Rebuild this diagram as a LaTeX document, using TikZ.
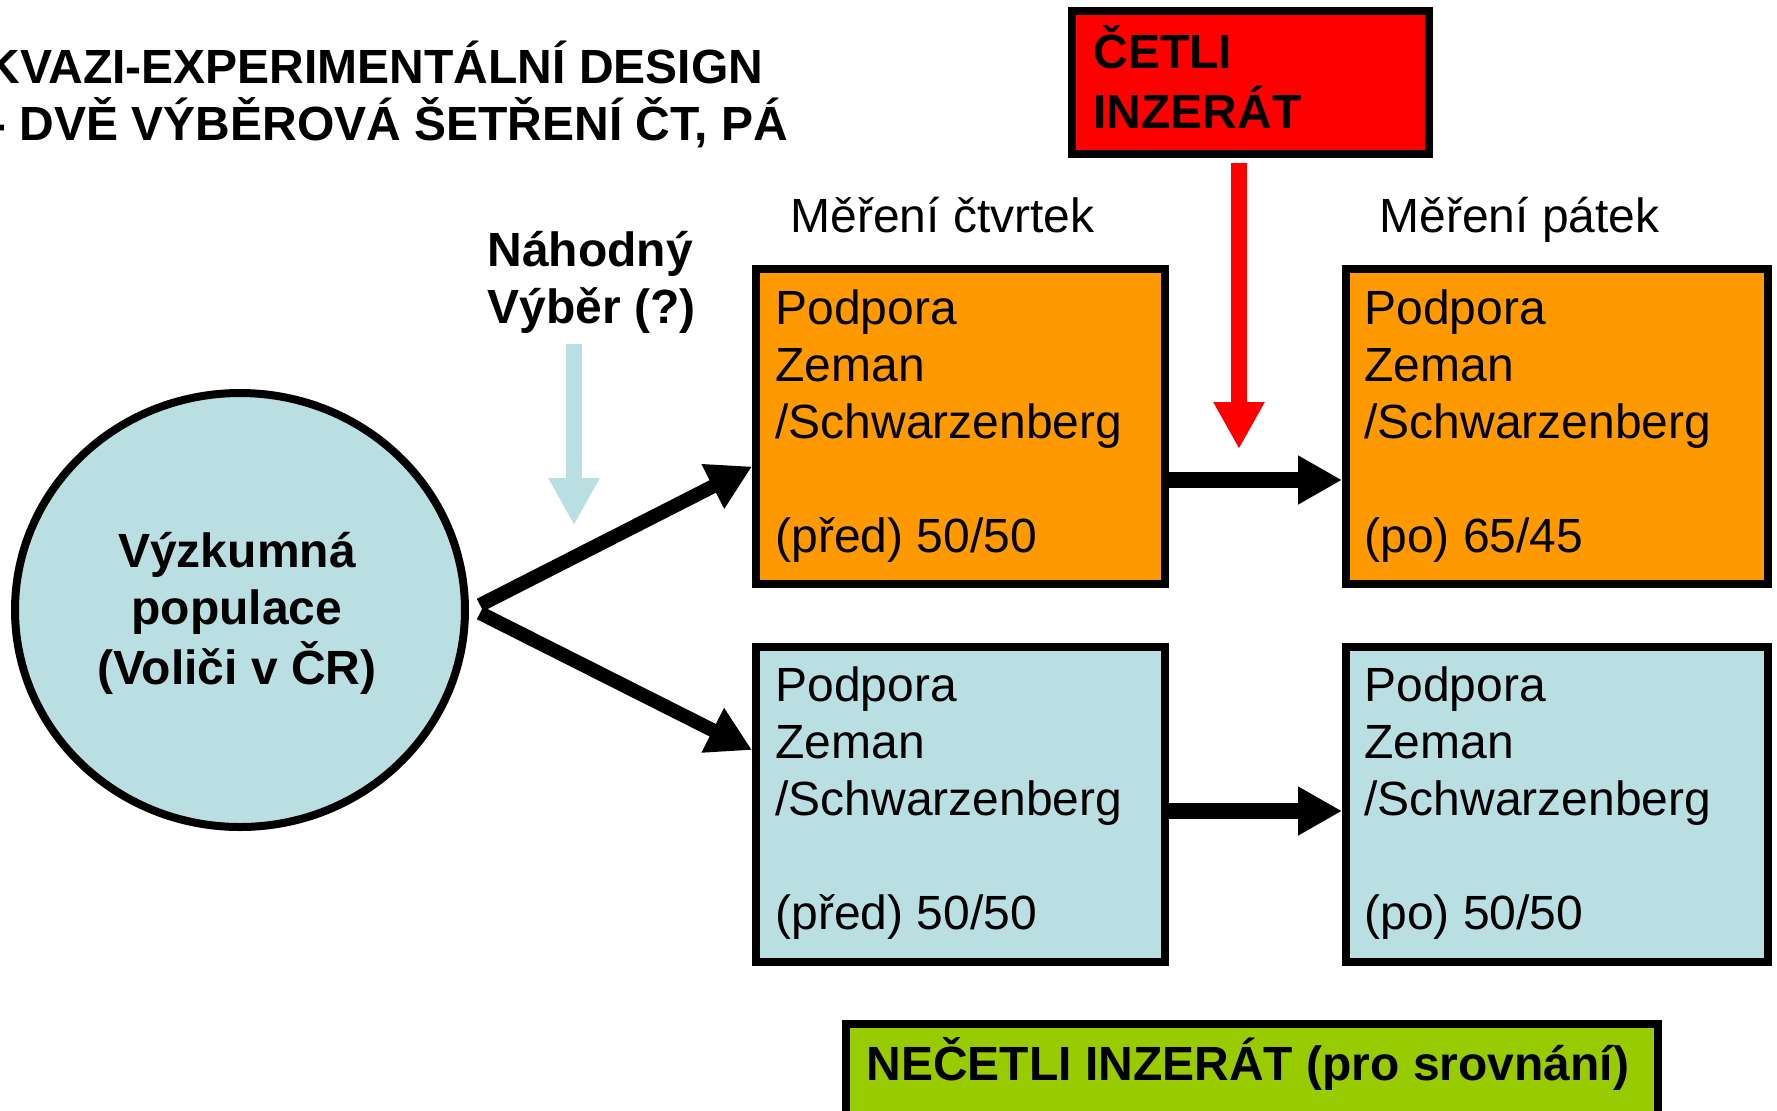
\documentclass[tikz,border=0pt]{standalone}
\usepackage{fontspec}
\setmainfont{Liberation Sans}
\usetikzlibrary{arrows.meta,shapes.geometric}
\definecolor{orng}{HTML}{FF9900}
\definecolor{lblue}{HTML}{B9DFE3}
\definecolor{lgreen}{HTML}{99CC00}
\definecolor{rred}{HTML}{FF0000}
\newcommand\mylines[2]{\begin{tabular}[t]{@{}#1@{}}#2\end{tabular}}
\begin{document}
\begin{tikzpicture}[x=0.5pt,y=-0.5pt,
  txt/.style={inner sep=0pt, anchor=base west, font=\fontsize{24}{28.5}\selectfont},
  btxt/.style={inner sep=0pt, anchor=base west, font=\fontsize{24}{28.5}\selectfont\bfseries},
  bx/.style={draw, line width=4pt, rectangle, inner sep=0pt},
  smallbox/.style={bx, minimum width=204.5pt, minimum height=157.5pt},
  widebox/.style={bx, minimum width=211pt, minimum height=157.5pt},
  blkarrow/.style={line width=8pt, -{Triangle[length=22pt,width=23pt]}},
  diagarrow/.style={line width=7pt, -{Triangle[length=22pt,width=23.5pt]}},
  vertarrow/.style={line width=8pt, -{Triangle[length=23.5pt,width=24pt]}}]
\useasboundingbox (0,0) rectangle (1777,1110);
\clip (0,0) rectangle (1777,1110);
\fill[white] (0,0) rectangle (1777,1110);

% title
\node[btxt] (t1) at (-15,83) {KVAZI-EXPERIMENTÁLNÍ DESIGN};
\node[btxt] (t2) at (-10,140) {- DVĚ VÝBĚROVÁ ŠETŘENÍ ČT, PÁ};

% red box
\node[bx, fill=rred, minimum width=178.5pt, minimum height=71.5pt] (red) at (1250.5,82.5) {};
\node[btxt, font=\fontsize{24}{29.5}\selectfont\bfseries] (redt) at (1093,68) {\mylines{l}{ČETLI\\INZERÁT}};

% labels
\node[txt] (m1) at (790,232) {Měření čtvrtek};
\node[txt] (m2) at (1379,232) {Měření pátek};
\node[btxt] (nv) at (487,266) {\mylines{l}{Náhodný\\Výběr (?)}};

% light blue arrow
\coordinate (lb1) at (574,344);
\coordinate (lb2) at (574,525);
\draw[vertarrow, lblue] (lb1) -- (lb2);

% population
\node[draw, line width=4pt, fill=lblue, ellipse, minimum width=225pt, minimum height=217pt, inner sep=0pt] (pop) at (240,610) {};
\node[btxt, anchor=base] (popt) at (237,567) {\mylines{c}{Výzkumná\\populace\\(Voliči v ČR)}};

% boxes
\node[smallbox, fill=orng] (tl) at (960.5,426.5) {};
\node[widebox, fill=orng] (tr) at (1557,426.5) {};
\node[smallbox, fill=lblue] (bl) at (960.5,804) {};
\node[widebox, fill=lblue] (br) at (1557,804) {};

\node[txt] (tlt) at (775,324) {\mylines{l}{Podpora\\Zeman\\/Schwarzenberg\\ \\(před) 50/50}};
\node[txt] (trt) at (1364,324) {\mylines{l}{Podpora\\Zeman\\/Schwarzenberg\\ \\(po) 65/45}};
\node[txt] (blt) at (775,701.5) {\mylines{l}{Podpora\\Zeman\\/Schwarzenberg\\ \\(před) 50/50}};
\node[txt] (brt) at (1364,701.5) {\mylines{l}{Podpora\\Zeman\\/Schwarzenberg\\ \\(po) 50/50}};

% arrows
\draw[diagarrow] ([shift={(11,-5)}]pop.east) -- ([shift={(0,40)}]tl.west);
\draw[diagarrow] ([shift={(11,3)}]pop.east) -- ([shift={(0,-54)}]bl.west);
\draw[blkarrow] ([shift={(0,53.5)}]tl.east) -- ([shift={(0,53.5)}]tr.west);
\draw[blkarrow] ([shift={(0,7)}]bl.east) -- ([shift={(0,7)}]br.west);

\coordinate (redtip) at (1239,449);
\draw[vertarrow, rred] ([shift={(-11.5,5)}]red.south) -- (redtip);

% green box
\node[bx, fill=lgreen, minimum width=406pt, minimum height=46pt] (green) at (1252,1070) {};
\node[btxt] (greent) at (866,1080) {NEČETLI INZERÁT (pro srovnání)};
\end{tikzpicture}
\end{document}
